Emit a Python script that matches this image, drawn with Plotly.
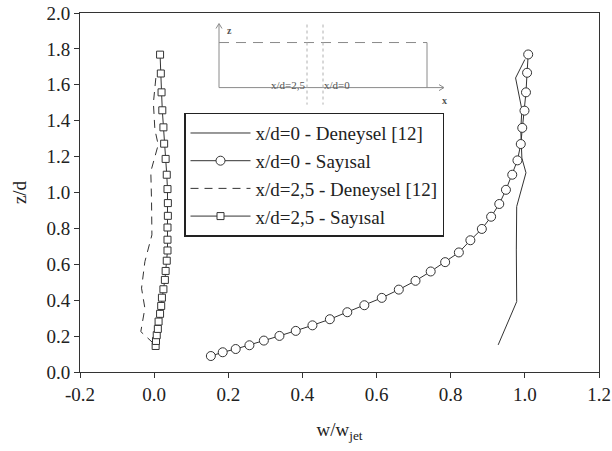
import plotly.graph_objects as go

# x/d=0 - Deneysel [12]
exp0_w = [0.928, 0.978, 0.977, 0.978, 1.003, 0.992, 0.989, 0.992, 0.975, 1.000]
exp0_z = [0.151, 0.392, 0.680, 0.922, 1.110, 1.192, 1.350, 1.462, 1.638, 1.741]

# x/d=0 - Sayısal
num0_w = [0.153, 0.185, 0.220, 0.257, 0.296, 0.338, 0.382, 0.427, 0.474, 0.521,
          0.567, 0.614, 0.660, 0.705, 0.746, 0.785, 0.822, 0.853, 0.884, 0.909,
          0.931, 0.949, 0.966, 0.980, 0.989, 0.993, 0.999, 1.003, 1.006, 1.009]
num0_z = [0.089, 0.110, 0.128, 0.149, 0.175, 0.201, 0.229, 0.260, 0.294, 0.333,
          0.372, 0.413, 0.459, 0.508, 0.560, 0.612, 0.666, 0.734, 0.797, 0.865,
          0.936, 1.015, 1.099, 1.179, 1.270, 1.360, 1.456, 1.558, 1.667, 1.769]

# x/d=2,5 - Deneysel [12]
exp25_w = [-0.002, -0.036, -0.025, -0.034, -0.025, -0.006, -0.007, -0.009, 0.011, 0.002, -0.002, 0.005]
exp25_z = [0.160, 0.225, 0.355, 0.467, 0.615, 0.764, 0.950, 1.117, 1.266, 1.350, 1.499, 1.647]

# x/d=2,5 - Sayısal
num25_w = [0.004, 0.005, 0.007, 0.010, 0.012, 0.016, 0.019, 0.021, 0.025, 0.029,
           0.031, 0.034, 0.036, 0.036, 0.036, 0.037, 0.037, 0.036, 0.034, 0.031,
           0.027, 0.025, 0.022, 0.020, 0.018, 0.016]
num25_z = [0.145, 0.173, 0.205, 0.240, 0.281, 0.324, 0.368, 0.414, 0.461, 0.513,
           0.563, 0.620, 0.677, 0.737, 0.805, 0.870, 0.941, 1.019, 1.099, 1.187,
           1.272, 1.363, 1.458, 1.558, 1.663, 1.768]

x_ticks = [-0.2, 0.0, 0.2, 0.4, 0.6, 0.8, 1.0, 1.2]
y_ticks = [0.0, 0.2, 0.4, 0.6, 0.8, 1.0, 1.2, 1.4, 1.6, 1.8, 2.0]

LC = "#333333"
FONT = "Liberation Serif"

fig = go.Figure()
fig.add_trace(go.Scatter(x=exp0_w, y=exp0_z, mode="lines", name="x/d=0 - Deneysel [12]",
                         line=dict(color=LC, width=1)))
fig.add_trace(go.Scatter(x=num0_w, y=num0_z, mode="lines+markers", name="x/d=0 - Sayısal",
                         line=dict(color=LC, width=1),
                         marker=dict(symbol="circle", size=9, color="white",
                                     line=dict(color=LC, width=1))))
fig.add_trace(go.Scatter(x=exp25_w, y=exp25_z, mode="lines", name="x/d=2,5 - Deneysel [12]",
                         line=dict(color=LC, width=1, dash="8px,6px")))
fig.add_trace(go.Scatter(x=num25_w, y=num25_z, mode="lines+markers", name="x/d=2,5 - Sayısal",
                         line=dict(color=LC, width=1),
                         marker=dict(symbol="square", size=7, color="white",
                                     line=dict(color=LC, width=1))))

# screen pixel -> paper coords (plot area spans x 80..599, y 13.5..372)
def px(x):
    return (x - 80) / 519.0

def py(y):
    return (372 - y) / 358.5

IC = "#8a8a8a"
shapes = [
    dict(type="line", xref="paper", yref="paper", x0=px(219), x1=px(219), y0=py(88), y1=py(25),
         line=dict(color=IC, width=1)),
    dict(type="line", xref="paper", yref="paper", x0=px(219), x1=px(443), y0=py(88), y1=py(88),
         line=dict(color=IC, width=1)),
    dict(type="line", xref="paper", yref="paper", x0=px(219), x1=px(427), y0=py(43), y1=py(43),
         line=dict(color=IC, width=1, dash="10px,7px")),
    dict(type="line", xref="paper", yref="paper", x0=px(427), x1=px(427), y0=py(43), y1=py(88),
         line=dict(color=IC, width=1)),
    dict(type="line", xref="paper", yref="paper", x0=px(307), x1=px(307), y0=py(25), y1=py(105),
         line=dict(color="#b0b0b0", width=1, dash="dot")),
    dict(type="line", xref="paper", yref="paper", x0=px(323), x1=px(323), y0=py(25), y1=py(105),
         line=dict(color="#b0b0b0", width=1, dash="dot")),
    dict(type="path", xref="paper", yref="paper",
         path=f"M {px(216)} {py(29)} L {px(219)} {py(24)} L {px(222)} {py(29)}",
         line=dict(color=IC, width=1)),
    dict(type="path", xref="paper", yref="paper",
         path=f"M {px(439)} {py(85)} L {px(444)} {py(88)} L {px(439)} {py(91)}",
         line=dict(color=IC, width=1)),
]

annotations = [
    dict(xref="paper", yref="paper", x=px(288), y=py(77), text="x/d=2,5", showarrow=False,
         font=dict(family=FONT, size=11, color="#555555")),
    dict(xref="paper", yref="paper", x=px(337), y=py(77), text="x/d=0", showarrow=False,
         font=dict(family=FONT, size=11, color="#555555")),
    dict(xref="paper", yref="paper", x=px(225), y=py(23), text="<b>z</b>", showarrow=False,
         font=dict(family=FONT, size=10, color="#555555")),
    dict(xref="paper", yref="paper", x=px(449), y=py(93), text="<b>x</b>", showarrow=False,
         font=dict(family=FONT, size=10, color="#555555")),
]

fig.update_layout(
    width=612, height=451,
    margin=dict(l=80, r=13, t=13, b=79, autoexpand=False),
    paper_bgcolor="white", plot_bgcolor="white",
    font=dict(family=FONT, size=19, color="#222222"),
    showlegend=True,
    legend=dict(x=px(184), y=py(113), xanchor="left", yanchor="top",
                bordercolor="#222222", borderwidth=1.5, bgcolor="white",
                font=dict(family=FONT, size=19, color="#222222"),
                tracegroupgap=0, itemwidth=60),
    shapes=shapes,
    annotations=annotations,
    xaxis=dict(range=[-0.2, 1.2], tickvals=x_ticks, ticktext=[f"{v:.1f}" for v in x_ticks],
               showgrid=False, zeroline=False, showline=True, linecolor=LC, linewidth=1,
               mirror=True, ticks="outside", ticklen=5, tickcolor=LC, automargin=False,
               title=dict(text="w/w<sub>jet</sub>", font=dict(family=FONT, size=19), standoff=18)),
    yaxis=dict(range=[0, 2.0], tickvals=y_ticks, ticktext=[f"{v:.1f}" for v in y_ticks],
               showgrid=False, zeroline=False, showline=True, linecolor=LC, linewidth=1,
               mirror=True, ticks="outside", ticklen=5, tickcolor=LC, automargin=False,
               title=dict(text="z/d", font=dict(family=FONT, size=19), standoff=14)),
)

fig.write_html("out.html",
               config={"displayModeBar": False},
               post_script="document.body.style.margin='0';document.body.style.overflow='hidden';")
